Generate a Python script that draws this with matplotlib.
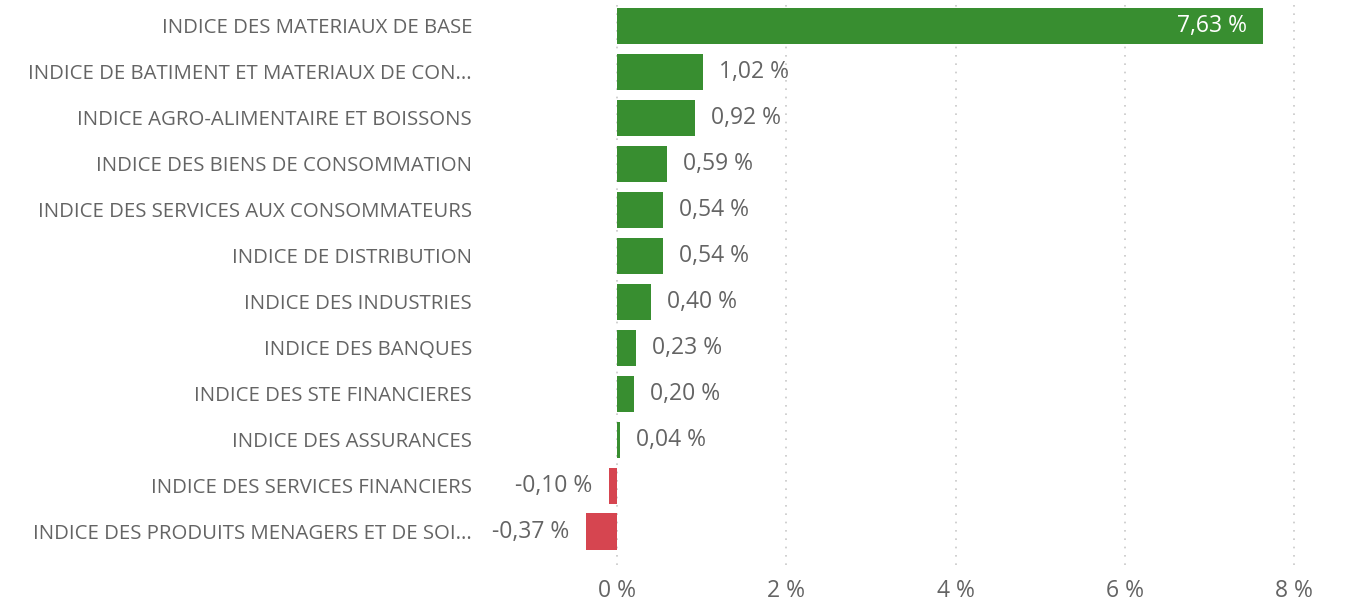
import matplotlib
matplotlib.use("Agg")
import matplotlib.pyplot as plt
from matplotlib.ticker import FixedLocator

categories = [
    "INDICE DES MATERIAUX DE BASE",
    "INDICE DE BATIMENT ET MATERIAUX DE CON...",
    "INDICE AGRO-ALIMENTAIRE ET BOISSONS",
    "INDICE DES BIENS DE CONSOMMATION",
    "INDICE DES SERVICES AUX CONSOMMATEURS",
    "INDICE DE DISTRIBUTION",
    "INDICE DES INDUSTRIES",
    "INDICE DES BANQUES",
    "INDICE DES STE FINANCIERES",
    "INDICE DES ASSURANCES",
    "INDICE DES SERVICES FINANCIERS",
    "INDICE DES PRODUITS MENAGERS ET DE SOI...",
]
values = [7.63, 1.02, 0.92, 0.59, 0.54, 0.54, 0.40, 0.23, 0.20, 0.04, -0.10, -0.37]
x_ticks = [0, 2, 4, 6, 8]

GREEN = "#388E30"
RED = "#D64550"
TEXT = "#646464"
plt.rcParams["font.family"] = ["Open Sans", "DejaVu Sans"]

W, H = 1347, 602
fig = plt.figure(figsize=(W / 100, H / 100), dpi=100)
left_px, right_px, top_px, bottom_px = 560, 1310, 3, 565
ax = fig.add_axes([left_px / W, 1 - bottom_px / H, (right_px - left_px) / W, (bottom_px - top_px) / H])

# px per unit: 0 at 617, 8 at 1294
ppu = (1294 - 617) / 8
ax.set_xlim((left_px - 617) / ppu, (right_px - 617) / ppu)
ax.set_ylim(len(categories) - 0.5 + 0.22, -0.5)

ypos = list(range(len(categories)))
colors = [GREEN if v >= 0 else RED for v in values]
ax.barh(ypos, values, height=0.8, color=colors, zorder=2)

for y, v in zip(ypos, values):
    label = f"{v:.2f} %".replace(".", ",")
    if v >= 7:
        ax.annotate(label, xy=(v, y), xytext=(-16, 0), textcoords="offset pixels",
                    ha="right", va="center", fontsize=16.5, color="white")
    elif v >= 0:
        ax.annotate(label, xy=(v, y), xytext=(16, 0), textcoords="offset pixels",
                    ha="left", va="center", fontsize=16.5, color=TEXT)
    else:
        ax.annotate(label, xy=(v, y), xytext=(-16, 0), textcoords="offset pixels",
                    ha="right", va="center", fontsize=16.5, color=TEXT)

ax.set_yticks(ypos)
ax.set_yticklabels(categories, fontsize=14.7, color=TEXT)
ax.tick_params(axis="y", length=0, pad=(left_px - 472) * 0.72)

ax.xaxis.set_major_locator(FixedLocator(x_ticks))
ax.set_xticklabels([f"{t} %" for t in x_ticks], fontsize=16.5, color=TEXT)
ax.tick_params(axis="x", length=0, pad=10)
ax.grid(axis="x", color="#C8C8C8", linestyle=(0, (1, 4)), linewidth=1.2, zorder=1)

for s in ax.spines.values():
    s.set_visible(False)

fig.savefig("out.png", dpi=100)
